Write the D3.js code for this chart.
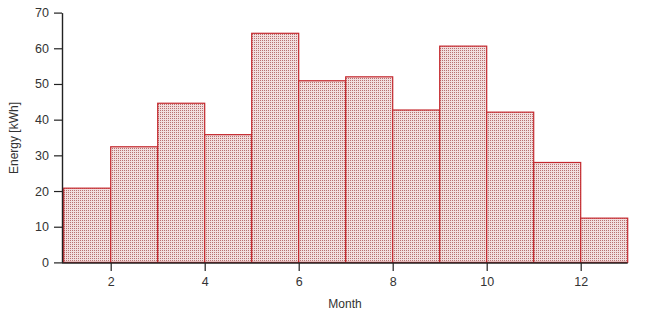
<!DOCTYPE html>
<html>
<head>
<meta charset="utf-8">
<script src="https://cdn.jsdelivr.net/npm/d3@7"></script>
<style>
  body { margin: 0; background: #fff; }
  text { font-family: "Liberation Sans", Arial, sans-serif; }
</style>
</head>
<body>
<svg id="chart"></svg>
<script>
const months = [1, 2, 3, 4, 5, 6, 7, 8, 9, 10, 11, 12];
const energy = [20.8, 32.4, 44.6, 35.8, 64.2, 50.9, 52.0, 42.7, 60.6, 42.1, 28.0, 12.4];
const xTicks = [2, 4, 6, 8, 10, 12];
const yTicks = [0, 10, 20, 30, 40, 50, 60, 70];

const width = 650, height = 314;
const svg = d3.select('#chart').attr('width', width).attr('height', height);

const x = d3.scaleLinear().domain([1, 13]).range([63.7, 627.7]);
const y = d3.scaleLinear().domain([0, 70]).range([262.4, 12.6]);

// stipple fill
const defs = svg.append('defs');
const pat = defs.append('pattern')
    .attr('id', 'dots')
    .attr('patternUnits', 'userSpaceOnUse')
    .attr('width', 2).attr('height', 2);
pat.append('rect').attr('width', 2).attr('height', 2).attr('fill', '#f1dede');
pat.append('rect').attr('width', 1).attr('height', 1).attr('fill', '#b87070');

const data = months.map((m, i) => ({ m, v: energy[i] }));

svg.selectAll('.bar')
    .data(data).join('rect')
    .attr('class', 'bar')
    .attr('x', d => x(d.m))
    .attr('y', d => y(d.v))
    .attr('width', d => x(d.m + 1) - x(d.m))
    .attr('height', d => y(0) - y(d.v))
    .attr('fill', 'url(#dots)')
    .attr('stroke', '#c4282e')
    .attr('stroke-width', 1.2);

// y axis
const yAxis = svg.append('g')
    .attr('transform', 'translate(62,0)')
    .call(d3.axisLeft(y).tickValues(yTicks).tickSize(8).tickPadding(5).tickSizeOuter(0));
yAxis.select('.domain').attr('stroke', '#222').attr('stroke-width', 1.4);
yAxis.selectAll('.tick line').attr('stroke', '#222').attr('stroke-width', 1.2);
yAxis.selectAll('text').attr('font-size', 12.5).attr('fill', '#333')
    .attr('font-family', '"Liberation Sans", Arial, sans-serif');

// x axis
const xAxis = svg.append('g')
    .attr('transform', 'translate(0,263)')
    .call(d3.axisBottom(x).tickValues(xTicks).tickSize(8).tickPadding(6).tickSizeOuter(0));
xAxis.select('.domain').attr('stroke', '#222').attr('stroke-width', 1.4)
    .attr('d', `M62,0H${x(13)}`);
xAxis.selectAll('.tick line').attr('stroke', '#222').attr('stroke-width', 1.2);
xAxis.selectAll('text').attr('font-size', 12.5).attr('fill', '#333')
    .attr('font-family', '"Liberation Sans", Arial, sans-serif');

svg.append('text')
    .attr('x', 345).attr('y', 308)
    .attr('text-anchor', 'middle')
    .attr('font-size', 12).attr('fill', '#333')
    .text('Month');

svg.append('text')
    .attr('transform', 'translate(18,138) rotate(-90)')
    .attr('text-anchor', 'middle')
    .attr('font-size', 12).attr('fill', '#333')
    .text('Energy [kWh]');
</script>
</body>
</html>
